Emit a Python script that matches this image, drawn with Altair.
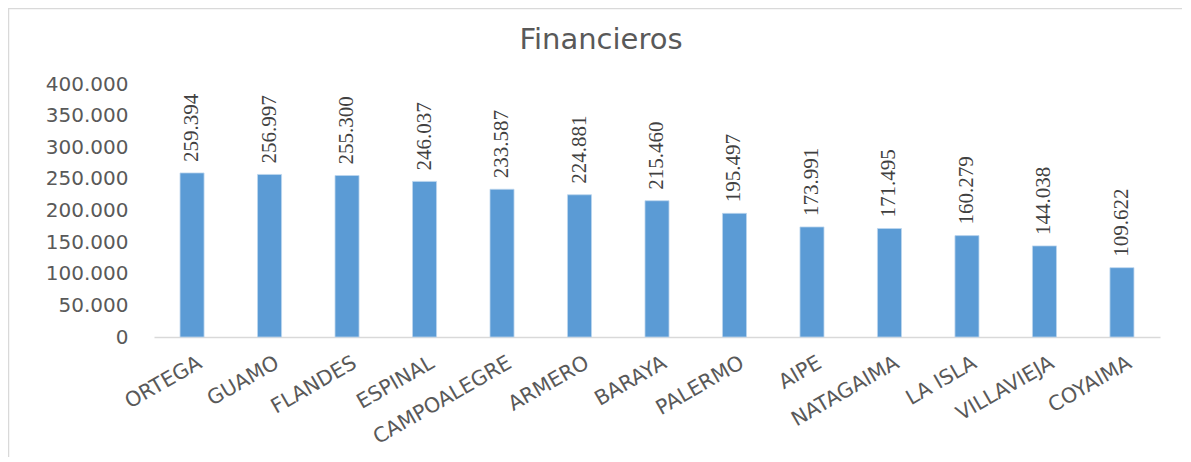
import altair as alt
import pandas as pd

categories = ["ORTEGA", "GUAMO", "FLANDES", "ESPINAL", "CAMPOALEGRE", "ARMERO", "BARAYA",
              "PALERMO", "AIPE", "NATAGAIMA", "LA ISLA", "VILLAVIEJA", "COYAIMA"]
values = [259394, 256997, 255300, 246037, 233587, 224881, 215460,
          195497, 173991, 171495, 160279, 144038, 109622]
y_ticks = [0, 50000, 100000, 150000, 200000, 250000, 300000, 350000, 400000]
title_text = "Financieros"

df = pd.DataFrame({"municipio": categories, "valor": values})

GRAY = "#595959"

x_enc = alt.X("municipio:N", sort=categories, title=None,
              scale=alt.Scale(paddingInner=0.69, paddingOuter=0.336),
              axis=alt.Axis(labelAngle=-30, labelAlign="right", labelBaseline="middle",
                            labelFont="DejaVu Sans", labelFontSize=20.5, labelColor=GRAY,
                            labelPadding=24, labelOffset=8, ticks=False,
                            domainColor="#d9d9d9", domainWidth=1.5, labelOverlap=False))
y_enc = alt.Y("valor:Q", title=None,
              scale=alt.Scale(domain=[0, 400000], nice=False),
              axis=alt.Axis(values=y_ticks, format=",d", grid=False, ticks=False, domain=False,
                            labelFont="DejaVu Sans", labelFontSize=20, labelColor=GRAY,
                            labelPadding=26, labelOverlap=False, labelBound=False,
                            labelFlush=False))

base = alt.Chart(df)

bars = base.mark_bar(color="#5B9BD5", stroke="#bcd6ee", strokeWidth=0.8).encode(x=x_enc, y=y_enc)

labels = base.mark_text(angle=270, align="left", baseline="middle", dx=11,
                        font="Liberation Sans Narrow", fontSize=21, color="#404040").encode(
    x=x_enc,
    y=y_enc,
    text=alt.Text("valor:Q", format=",d"),
)

one = alt.Data(values=[{"t": title_text}])
title = alt.Chart(one).mark_text(font="DejaVu Sans", fontSize=29, color=GRAY,
                                 align="center", baseline="alphabetic").encode(
    x=alt.value(447), y=alt.value(-35), text="t:N")

border_top = alt.Chart(one).mark_rule(color="#d9d9d9", strokeWidth=2.5).encode(
    x=alt.value(-145), x2=alt.value(1030), y=alt.value(-76))
border_left = alt.Chart(one).mark_rule(color="#d9d9d9", strokeWidth=2.5).encode(
    x=alt.value(-146), y=alt.value(-76), y2=alt.value(375))

chart = alt.layer(bars, labels, title, border_top, border_left).properties(
    width=1006, height=253,
    padding={"left": 146, "top": 76, "right": 22, "bottom": 120},
    autosize=alt.AutoSizeParams(type="none"),
).configure(
    locale={"number": {"decimal": ",", "thousands": ".", "grouping": [3], "currency": ["$", ""]}},
).configure_view(strokeWidth=0, stroke="transparent")

chart.save("out.html", embed_options={"renderer": "svg", "actions": False})
